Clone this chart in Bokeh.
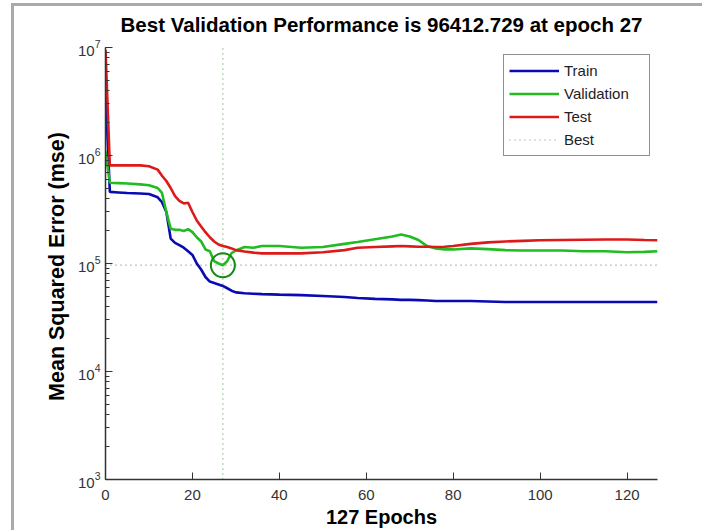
from bokeh.plotting import figure
from bokeh.models import Range1d, FixedTicker, Legend, LegendItem
from bokeh.embed import file_html
from bokeh.resources import INLINE

# ---------------- data ----------------
epochs = [0, 1, 3, 5, 8, 10, 12, 13, 14, 15, 16, 17, 18, 19, 20, 21, 22, 23, 24, 25,
          26, 27, 28, 29, 30, 32, 34, 36, 40, 45, 50, 55, 58, 62, 66, 68, 70, 72, 74,
          76, 78, 80, 84, 88, 92, 96, 100, 105, 110, 115, 120, 124, 127]

train = [4.0e6, 4.6e5, 4.55e5, 4.5e5, 4.45e5, 4.4e5, 4.1e5, 3.7e5, 3.0e5, 1.7e5,
         1.55e5, 1.48e5, 1.4e5, 1.3e5, 1.2e5, 1.0e5, 8.8e4, 7.5e4, 6.8e4, 6.6e4,
         6.4e4, 6.2e4, 5.9e4, 5.6e4, 5.4e4, 5.3e4, 5.25e4, 5.2e4, 5.15e4, 5.1e4,
         5.0e4, 4.9e4, 4.8e4, 4.7e4, 4.65e4, 4.6e4, 4.6e4, 4.58e4, 4.55e4, 4.5e4,
         4.5e4, 4.5e4, 4.5e4, 4.45e4, 4.4e4, 4.4e4, 4.4e4, 4.4e4, 4.4e4, 4.4e4,
         4.4e4, 4.4e4, 4.4e4]

validation = [1.1e6, 5.6e5, 5.55e5, 5.5e5, 5.4e5, 5.3e5, 5.0e5, 4.5e5, 3.0e5, 2.1e5,
              2.05e5, 2.05e5, 2.0e5, 2.08e5, 1.95e5, 1.75e5, 1.6e5, 1.35e5, 1.3e5, 1.05e5,
              1.0e5, 9.6412729e4, 1.05e5, 1.25e5, 1.32e5, 1.42e5, 1.4e5, 1.45e5, 1.45e5, 1.4e5,
              1.42e5, 1.52e5, 1.58e5, 1.68e5, 1.78e5, 1.86e5, 1.78e5, 1.65e5, 1.45e5, 1.38e5,
              1.35e5, 1.35e5, 1.38e5, 1.36e5, 1.33e5, 1.32e5, 1.32e5, 1.32e5, 1.3e5, 1.3e5,
              1.27e5, 1.28e5, 1.3e5]

test = [9.5e6, 8.1e5, 8.1e5, 8.1e5, 8.1e5, 7.95e5, 7.4e5, 6.5e5, 5.8e5, 5.0e5,
        4.2e5, 3.8e5, 3.6e5, 3.65e5, 3.0e5, 2.5e5, 2.2e5, 1.95e5, 1.75e5, 1.6e5,
        1.5e5, 1.45e5, 1.42e5, 1.38e5, 1.33e5, 1.29e5, 1.26e5, 1.24e5, 1.24e5, 1.24e5,
        1.27e5, 1.33e5, 1.4e5, 1.42e5, 1.44e5, 1.45e5, 1.44e5, 1.43e5, 1.43e5, 1.42e5,
        1.43e5, 1.45e5, 1.52e5, 1.57e5, 1.6e5, 1.62e5, 1.64e5, 1.65e5, 1.66e5, 1.67e5,
        1.67e5, 1.65e5, 1.64e5]

best_epoch = 27
best_perf = 96412.729
x_min, x_max = 0, 127
y_min, y_max = 1e3, 1e7
x_ticks = [0, 20, 40, 60, 80, 100, 120]
title_text = "Best Validation Performance is 96412.729 at epoch 27"
x_label = "127 Epochs"
y_label = "Mean Squared Error  (mse)"

FONT = "Liberation Sans"
BLUE = "#0a0ab4"
GREEN = "#22bb22"
RED = "#dd1a1a"
BEST = "#5f9f5f"

p = figure(frame_width=552, frame_height=432, y_axis_type="log",
           x_range=Range1d(x_min, x_max), y_range=Range1d(y_min, y_max),
           output_backend="svg", toolbar_location=None,
           min_border_left=94, min_border_top=42, min_border_right=45,
           min_border_bottom=44, background_fill_color="white",
           border_fill_color="white", border_fill_alpha=0.0)

# grey window edge (left and top) like the reference screenshot, drawn as CSS
# background lines behind the transparent border area of the canvas
p.styles = {"margin-left": "11px", "margin-top": "-2px",
            "background-image": "linear-gradient(#aaaaaa, #aaaaaa), linear-gradient(#aaaaaa, #aaaaaa)",
            "background-size": "100% 3px, 3px 100%",
            "background-position": "0 5px, 0 5px",
            "background-repeat": "no-repeat"}

p.outline_line_color = None
p.grid.visible = False

# title
p.title.text = title_text
p.title.align = "center"
p.title.text_font = FONT
p.title.text_font_size = "20.5px"
p.title.text_font_style = "bold"
p.title.text_color = "black"
p.title.standoff = 24

# axes
for ax in (p.xaxis[0], p.yaxis[0]):
    ax.axis_line_color = "#333333"
    ax.axis_line_width = 1.5
    ax.major_tick_line_color = "#333333"
    ax.minor_tick_line_color = "#333333"
    ax.major_tick_in = 7
    ax.major_tick_out = 0
    ax.major_label_text_font = FONT
    ax.major_label_text_font_size = "15px"
    ax.major_label_text_color = "#333333"
    ax.axis_label_text_font = FONT
    ax.axis_label_text_font_style = "bold"
    ax.axis_label_text_color = "black"

p.xaxis.ticker = FixedTicker(ticks=x_ticks)
p.xaxis.minor_tick_line_color = None
p.xaxis.axis_label = x_label
p.xaxis.axis_label_text_font_size = "20px"
p.xaxis.major_label_standoff = 10
p.xaxis.axis_label_standoff = 3

p.yaxis.axis_label = y_label
p.yaxis.axis_label_text_font_size = "21.5px"
p.yaxis.minor_tick_in = 4
p.yaxis.minor_tick_out = 0
p.yaxis.major_label_standoff = 5
p.yaxis.axis_label_standoff = 6

# best lines
r_best = p.line([best_epoch, best_epoch], [y_min, y_max], line_color=BEST,
                line_width=1.2, line_dash="1 4")
p.line([x_min, x_max], [best_perf, best_perf], line_color=BEST,
       line_width=1.2, line_dash="1 4")

r_train = p.line(epochs, train, line_color=BLUE, line_width=2.6)
r_val = p.line(epochs, validation, line_color=GREEN, line_width=2.6)
r_test = p.line(epochs, test, line_color=RED, line_width=2.6)

p.scatter([best_epoch], [best_perf], marker="circle", size=24, fill_color=None,
          line_color="#158a15", line_width=2)

legend = Legend(items=[LegendItem(label="Train", renderers=[r_train]),
                       LegendItem(label="Validation", renderers=[r_val]),
                       LegendItem(label="Test", renderers=[r_test]),
                       LegendItem(label="Best", renderers=[r_best])],
                location="top_right", margin=7, padding=5, spacing=2,
                glyph_width=50, glyph_height=21, label_standoff=5, label_width=80,
                label_text_font=FONT, label_text_font_size="15px",
                label_text_color="#222222", border_line_color="#222222",
                border_line_width=1, background_fill_color="white",
                background_fill_alpha=1.0)
p.add_layout(legend)

open("out.html", "w").write(file_html(p, INLINE))
